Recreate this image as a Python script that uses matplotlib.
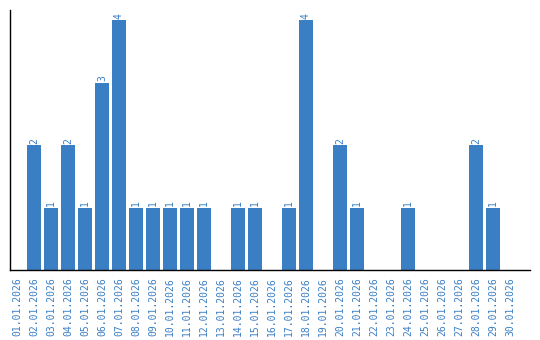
import matplotlib
matplotlib.use('Agg')
import matplotlib.pyplot as plt

dates = ['%02d.01.2026' % d for d in range(1, 31)]
counts = [0, 2, 1, 2, 1, 3, 4, 1, 1, 1, 1, 1, 0, 1, 1, 0, 1, 4, 0, 2,
          1, 0, 0, 1, 0, 0, 0, 2, 1, 0]

BAR_COLOR = '#3a7fc4'
TEXT_COLOR = '#3a7fc4'


def main():
    fig = plt.figure(figsize=(5.4, 3.4), dpi=100)
    ax = fig.add_axes([10 / 540, 70 / 340, 520 / 540, 260 / 340])

    x = list(range(len(dates)))
    bars = ax.bar(x, counts, width=0.82, color=BAR_COLOR)

    # value labels above the non-empty bars
    for rect, val in zip(bars, counts):
        if val == 0:
            continue
        ax.annotate(str(val),
                    (rect.get_x() + rect.get_width() / 2, rect.get_height()),
                    xytext=(0, 1), textcoords='offset points',
                    ha='center', va='bottom', rotation=90,
                    color=TEXT_COLOR, fontsize=7, family='DejaVu Sans Mono')

    ax.set_xlim(-0.41, 30.18)
    ax.set_ylim(0, 4.16)
    ax.set_xticks(x)
    ax.set_xticklabels(dates, rotation=90, color=TEXT_COLOR,
                       fontsize=7, family='DejaVu Sans Mono')
    ax.set_yticks([])
    ax.tick_params(axis='x', length=0, pad=5)

    for side in ['top', 'right']:
        ax.spines[side].set_visible(False)
    ax.spines['left'].set_linewidth(1.0)
    ax.spines['bottom'].set_linewidth(1.0)

    fig.savefig('out.png', dpi=100)


if __name__ == '__main__':
    main()
